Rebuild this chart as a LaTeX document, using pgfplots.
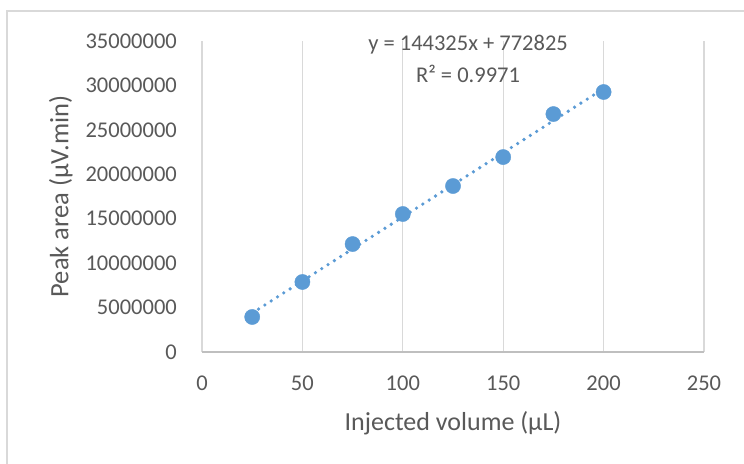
\documentclass[border=0pt]{standalone}
\usepackage{pgfplots}
\pgfplotsset{compat=1.18}
\usepackage{fontspec}
\setmainfont{Carlito}
\definecolor{txt}{HTML}{595959}
\definecolor{grid}{HTML}{D9D9D9}
\definecolor{axl}{HTML}{BFBFBF}
\definecolor{blu}{HTML}{5B9BD5}
\begin{document}
\begin{tikzpicture}
\useasboundingbox (0pt,0pt) rectangle (744pt,463pt);
\fill[white] (0pt,0pt) rectangle (744pt,463pt);
\draw[grid, line width=1.2pt] (7pt,-5pt) -- (7pt,452pt) -- (760pt,452pt);
\begin{axis}[
  at={(202pt,111pt)}, anchor=south west,
  scale only axis, width=502pt, height=311pt,
  xmin=0, xmax=250, ymin=0, ymax=35000000,
  xtick={0,50,...,250}, ytick={0,5000000,...,35000000},
  scaled y ticks=false,
  /pgf/number format/.cd, fixed, 1000 sep={}, assume math mode=true, /pgfplots/.cd,
  axis y line*=left,
  axis x line*=bottom,
  y axis line style={draw=none},
  x axis line style={axl, line width=1.3pt, -},
  xmajorgrids=true, ymajorgrids=false,
  x grid style={grid, line width=1.3pt},
  ytick style={draw=none}, xtick style={draw=none},
  major tick length=0pt,
  tick label style={font=\fontsize{22.5}{27}\selectfont, text=txt},
  xticklabel style={anchor=center, yshift=-31pt},
  yticklabel style={anchor=east, inner sep=0pt, xshift=-25pt},
  xlabel={Injected volume (µL)},
  ylabel={Peak area (µV.min)},
  every axis x label/.style={at={(axis description cs:0.5,-0.228)}, anchor=center, font=\fontsize{26}{31}\selectfont, text=txt},
  every axis y label/.style={at={(axis description cs:-0.281,0.5)}, anchor=center, rotate=90, font=\fontsize{26.5}{31}\selectfont, text=txt},
  clip=false,
]
\addplot[blu, line width=3.6pt, line cap=round, dash pattern=on 0pt off 7.5pt] coordinates {(25,4380950) (200,29637825)};
\addplot[only marks, mark=*, mark size=7.6pt, mark options={fill=blu, draw=blu}] coordinates {
(25,3940000) (50,7880000) (75,12150000) (100,15530000) (125,18680000) (150,21940000) (175,26780000) (200,29260000)};
\node[text=txt, font=\fontsize{22.5}{27}\selectfont, anchor=center] at (axis cs:132.5,34600000) {y = 144325x + 772825};
\node[text=txt, font=\fontsize{22.5}{27}\selectfont, anchor=center] at (axis cs:132.5,31350000) {R² = 0.9971};
\end{axis}
\end{tikzpicture}
\end{document}
